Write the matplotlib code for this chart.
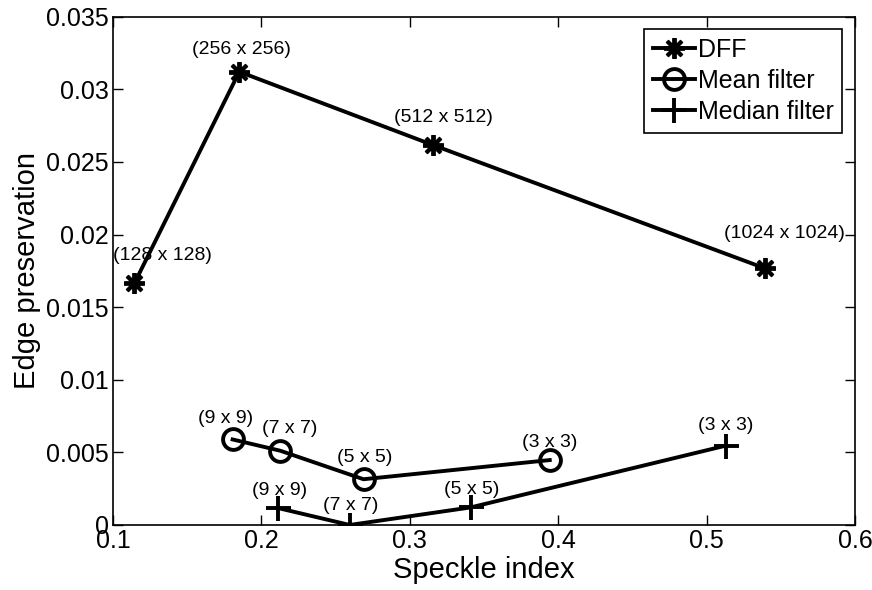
import matplotlib.pyplot as plt
from matplotlib.ticker import FuncFormatter

plt.rcParams['font.family'] = ['Liberation Sans', 'DejaVu Sans']

# speckle index / edge preservation for each method
dff_x = [0.1144, 0.1851, 0.3154, 0.5394]
dff_y = [0.01664, 0.03121, 0.02617, 0.01767]
dff_labels = ['(128 x 128)', '(256 x 256)', '(512 x 512)', '(1024 x 1024)']

mean_x = [0.1806, 0.2128, 0.2688, 0.3943]
mean_y = [0.00589, 0.00511, 0.00315, 0.00447]
mean_labels = ['(9 x 9)', '(7 x 7)', '(5 x 5)', '(3 x 3)']

median_x = [0.2115, 0.2595, 0.3410, 0.5128]
median_y = [0.00116, 0.0, 0.00121, 0.00546]
median_labels = ['(9 x 9)', '(7 x 7)', '(5 x 5)', '(3 x 3)']

# text offsets in pixels
dff_off = [(28, 28), (2, 22), (11, 27), (19, 35)]
mean_off = [(-7, 21), (9, 22), (1, 22), (0, 18)]
median_off = [(1, 18), (1, 19), (1, 18), (0, 20)]

fig = plt.figure(figsize=(8.72, 5.9), dpi=100)
ax = fig.add_axes([0.1296, 0.1102, 0.8509, 0.8615])

ax.plot(dff_x, dff_y, color='black', lw=2.8, marker=(8, 2, 0), ms=15, mew=2.8, label='DFF')
ax.plot(mean_x, mean_y, color='black', lw=2.8, marker='o', ms=15, mfc='none', mew=2.8, label='Mean filter')
ax.plot(median_x, median_y, color='black', lw=2.8, marker='+', ms=18, mew=2.8, label='Median filter')

for xs, ys, labs, offs in [(dff_x, dff_y, dff_labels, dff_off),
                           (mean_x, mean_y, mean_labels, mean_off),
                           (median_x, median_y, median_labels, median_off)]:
    for x, y, t, o in zip(xs, ys, labs, offs):
        ax.annotate(t, (x, y), xytext=o, textcoords='offset pixels',
                    ha='center', va='center', fontsize=14)

ax.set_xlim(0.1, 0.6)
ax.set_ylim(0, 0.035)
ax.set_xticks([0.1, 0.2, 0.3, 0.4, 0.5, 0.6])
ax.set_yticks([0, 0.005, 0.01, 0.015, 0.02, 0.025, 0.03, 0.035])
ax.yaxis.set_major_formatter(FuncFormatter(lambda v, p: '%g' % v))
ax.xaxis.set_major_formatter(FuncFormatter(lambda v, p: '%g' % v))
ax.tick_params(direction='in', length=7, width=1, top=True, right=True,
               labelsize=18, pad=3)
for s in ax.spines.values():
    s.set_linewidth(1.2)

ax.set_xlabel('Speckle index', fontsize=21, labelpad=2)
ax.set_ylabel('Edge preservation', fontsize=21, labelpad=4)

leg = ax.legend(loc='upper right', fontsize=18, handlelength=1.7, handletextpad=0.1,
                labelspacing=0.28, borderpad=0.35, borderaxespad=0.5, fancybox=False,
                framealpha=1, edgecolor='black')
leg.get_frame().set_linewidth(1.2)

fig.savefig('out.png', dpi=100)
